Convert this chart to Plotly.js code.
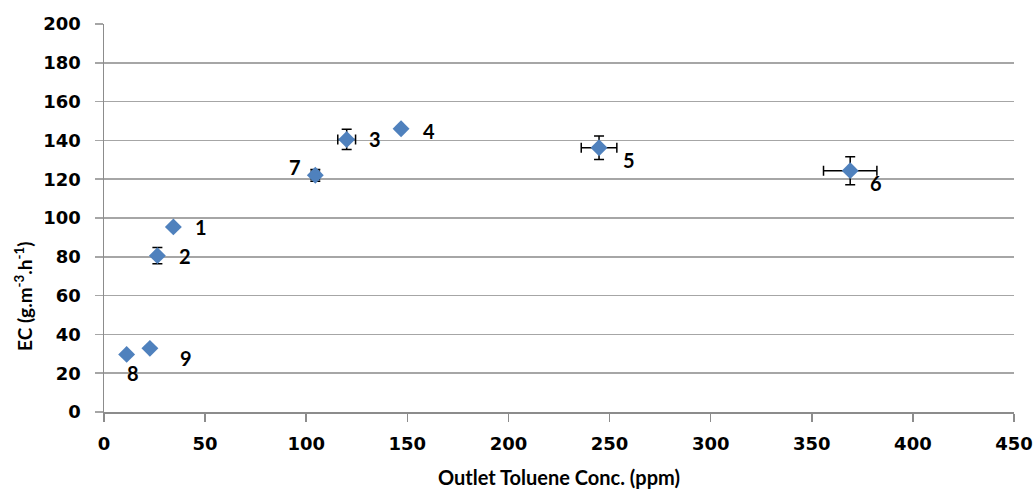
<!DOCTYPE html>
<html>
<head>
<meta charset="utf-8">
<script src="https://cdn.plot.ly/plotly-3.0.1.min.js"></script>
<style>html,body{margin:0;padding:0;background:#fff;}#chart{width:1034px;height:493px;}</style>
</head>
<body>
<div id="chart"></div>
<script>
const labels = ['1','2','3','4','5','6','7','8','9'];
const conc = [34.3, 26.4, 120.0, 146.9, 244.8, 369.0, 104.5, 11.2, 22.7];
const ec = [95.4, 80.6, 140.5, 146.0, 136.2, 124.4, 122.0, 29.7, 32.8];
const concErr = [0.8, 0.8, 4.4, 1.0, 8.8, 13.2, 2.0, 0, 0];
const ecErr = [1.0, 4.2, 5.2, 1.0, 6.1, 7.2, 3.0, 0, 0];
// label offsets in pixels (style)
const labelShift = [[28,0],[28,0],[28,0],[28,-2],[30,-12],[26,-12],[-20,8],[6,-19],[36,-10]];

const lato = 'Lato, "Open Sans", sans-serif';
const deja = '"DejaVu Sans", sans-serif';
const trace = {
  x: conc, y: ec, mode: 'markers', type: 'scatter',
  marker: {symbol: 'diamond', size: 13, color: '#4F81BD'},
  error_x: {type: 'data', array: concErr, visible: true, color: '#000', thickness: 1.5, width: 5},
  error_y: {type: 'data', array: ecErr, visible: true, color: '#000', thickness: 1.5, width: 5},
  hoverinfo: 'none'
};
const annotations = labels.map((t, i) => ({
  x: conc[i], y: ec[i], text: t, showarrow: false,
  xshift: labelShift[i][0], yshift: labelShift[i][1],
  font: {family: lato, size: 20, color: '#000', weight: 'bold'}
}));
annotations.push({
  xref: 'paper', yref: 'paper', x: -0.088, y: 0.299, text: 'EC (g.m<sup>-3</sup>.h<sup>-1</sup>)',
  textangle: -90, showarrow: false, xanchor: 'center', yanchor: 'middle',
  font: {family: lato, size: 19, color: '#000', weight: 'bold'}
});
annotations.push({
  xref: 'paper', yref: 'paper', x: 0.5, y: -0.168, text: 'Outlet Toluene Conc. (ppm)',
  showarrow: false, xanchor: 'center', yanchor: 'middle',
  font: {family: lato, size: 20, color: '#000', weight: 'bold'}
});
const layout = {
  width: 1034, height: 493,
  margin: {l: 104, r: 20, t: 24, b: 81},
  paper_bgcolor: '#fff', plot_bgcolor: '#fff',
  showlegend: false,
  font: {family: deja, size: 18, color: '#000', weight: 'bold'},
  xaxis: {
    range: [0, 450], dtick: 50, tick0: 0, showgrid: false, zeroline: false,
    showline: true, linecolor: '#8c8c8c', linewidth: 1.5,
    ticks: 'outside', ticklen: 8, tickcolor: '#8c8c8c', tickwidth: 1.5,
    ticklabelstandoff: 7,
    tickfont: {family: deja, size: 18, color: '#000', weight: 'bold'}
  },
  yaxis: {
    range: [0, 200], dtick: 20, tick0: 0, showgrid: true, gridcolor: '#a6a6a6', gridwidth: 1.5,
    zeroline: false, showline: true, linecolor: '#8c8c8c', linewidth: 1.5,
    ticks: 'outside', ticklen: 8, tickcolor: '#a6a6a6', tickwidth: 1.5,
    ticklabelstandoff: 10,
    tickfont: {family: deja, size: 18, color: '#000', weight: 'bold'}
  },
  annotations: annotations
};
Plotly.newPlot('chart', [trace], layout, {displayModeBar: false, staticPlot: true});
</script>
</body>
</html>
